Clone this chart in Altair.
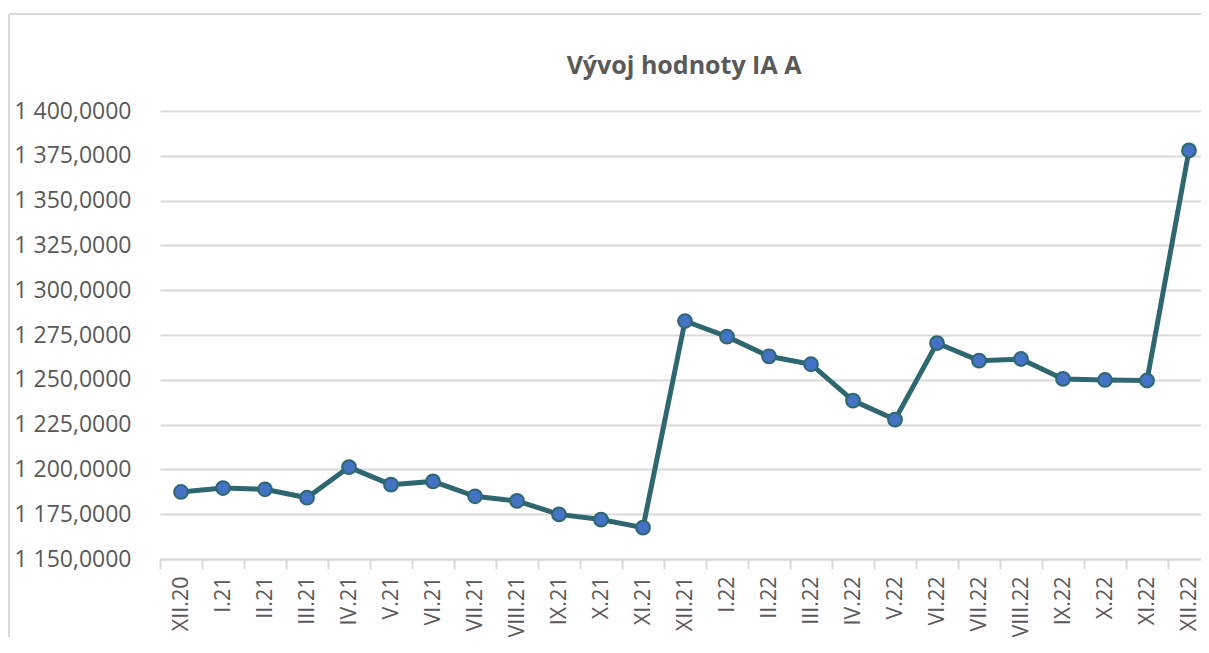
import altair as alt
import pandas as pd

months = ["XII.20", "I.21", "II.21", "III.21", "IV.21", "V.21", "VI.21", "VII.21",
          "VIII.21", "IX.21", "X.21", "XI.21", "XII.21", "I.22", "II.22", "III.22",
          "IV.22", "V.22", "VI.22", "VII.22", "VIII.22", "IX.22", "X.22", "XI.22", "XII.22"]
values = [1187.4, 1189.6, 1188.9, 1184.2, 1201.3, 1191.5, 1193.3, 1185.0,
          1182.4, 1174.9, 1172.0, 1167.5, 1282.8, 1274.1, 1263.1, 1258.7,
          1238.4, 1227.8, 1270.5, 1260.7, 1261.6, 1250.5, 1249.9, 1249.6, 1378.0]
y_ticks = [1150, 1175, 1200, 1225, 1250, 1275, 1300, 1325, 1350, 1375, 1400]
title_text = "Vývoj hodnoty IA A"

df = pd.DataFrame({"mesic": months, "hodnota": values})
title_df = pd.DataFrame({"t": [title_text]})
frame_df = pd.DataFrame({"a": [0]})

FONT = "Open Sans"
TXT = "#595959"
GRID = "#d9d9d9"
LINE = "#2E6770"
MARK = "#4472C4"

TOP = 103
BOTTOM = 78
W = 1041
H = 448

x_enc = alt.X(
    "mesic:N",
    sort=months,
    scale=alt.Scale(range=[0, 1050], paddingInner=0, paddingOuter=0),
    axis=alt.Axis(
        title=None, labelAngle=270, labelFont=FONT, labelFontSize=21.5, labelColor=TXT,
        labelPadding=7, tickBand="extent", tickSize=10, tickColor=GRID, tickWidth=2,
        domainColor=GRID, domainWidth=2, grid=False,
    ),
)
y_enc = alt.Y(
    "hodnota:Q",
    scale=alt.Scale(domain=[1150, 1400], nice=False, zero=False),
    axis=alt.Axis(
        title=None, values=y_ticks, labelFont=FONT, labelFontSize=23, labelColor=TXT,
        labelPadding=29, ticks=False, domain=False, gridColor=GRID, gridWidth=2,
        labelExpr="replace(replace(format(datum.value, ',.4f'), ',', ' '), '.', ',')",
    ),
)

base = alt.Chart(df).encode(x=x_enc, y=y_enc)
line = base.mark_line(color=LINE, strokeWidth=5)
pts = base.mark_point(shape="circle", filled=True, fill=MARK, stroke=LINE,
                      strokeWidth=2, size=190, opacity=1)

top_border = alt.Chart(frame_df).mark_rule(color=GRID, strokeWidth=2).encode(
    x=alt.value(-151), x2=alt.value(W), y=alt.value(6 - TOP), y2=alt.value(6 - TOP))
left_border = alt.Chart(frame_df).mark_rule(color=GRID, strokeWidth=2).encode(
    x=alt.value(-151), x2=alt.value(-151), y=alt.value(6 - TOP), y2=alt.value(H + BOTTOM))

title = alt.Chart(title_df).mark_text(
    font=FONT, fontSize=25, fontWeight="bold", color=TXT, align="center",
    baseline="alphabetic",
).encode(text="t:N", x=alt.value(524), y=alt.value(-37))

chart = alt.layer(top_border, left_border, line, pts, title).properties(
    width=W,
    height=H,
    autosize="none",
    padding={"left": 152, "top": TOP, "right": 0, "bottom": BOTTOM},
).configure_view(strokeOpacity=0)

chart.save("out.html", embed_options={"renderer": "svg", "actions": False})
